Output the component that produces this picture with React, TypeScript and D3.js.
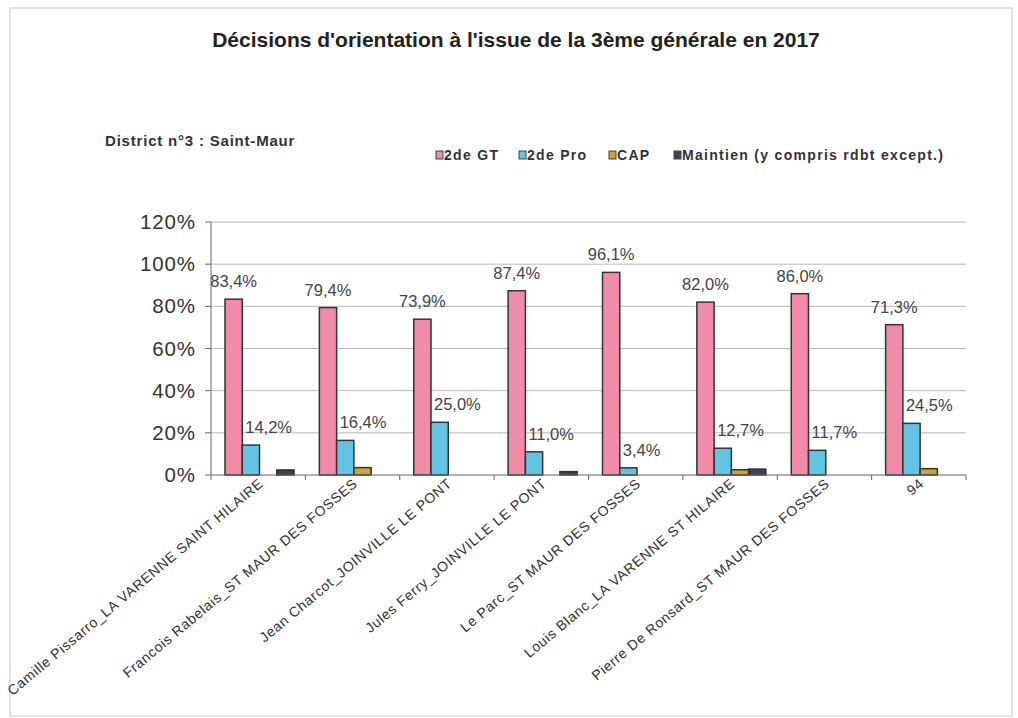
import React from 'react';
import * as d3 from 'd3';

const categories = [
  'Camille Pissarro_LA VARENNE SAINT HILAIRE',
  'Francois Rabelais_ST MAUR DES FOSSES',
  'Jean Charcot_JOINVILLE LE PONT',
  'Jules Ferry_JOINVILLE LE PONT',
  'Le Parc_ST MAUR DES FOSSES',
  'Louis Blanc_LA VARENNE ST HILAIRE',
  'Pierre De Ronsard_ST MAUR DES FOSSES',
  '94',
];
const seriesNames = ['2de GT', '2de Pro', 'CAP', 'Maintien (y compris rdbt except.)'];
const gt = [83.4, 79.4, 73.9, 87.4, 96.1, 82.0, 86.0, 71.3];
const pro = [14.2, 16.4, 25.0, 11.0, 3.4, 12.7, 11.7, 24.5];
const cap = [0, 3.5, 0, 0, 0, 2.5, 0, 3.0];
const maintien = [2.4, 0, 0, 1.6, 0, 2.8, 0, 0];
const yTicks = [0, 20, 40, 60, 80, 100, 120];
const colors = ['#f28ba8', '#62c3e3', '#c9a43c', '#3f4150'];

const W = 1018;
const H = 718;
const FONT = 'Arial, "Liberation Sans", sans-serif';

const App: React.FC = () => {
  const values = [gt, pro, cap, maintien];
  const x = d3.scaleBand<string>().domain(categories).range([211, 966]);
  const xs = d3.scaleBand<number>().domain([0, 1, 2, 3]).range([14, 83]);
  const y = d3.scaleLinear().domain([0, 120]).range([475, 222]);
  const fmt = (v: number) => v.toFixed(1).replace('.', ',') + '%';
  const legendX = [436, 519, 609, 674];

  return (
    <svg width={W} height={H} style={{ position: 'absolute', left: 0, top: 0, background: '#fff' }}>
      <rect x={10} y={8} width={1002} height={708} fill="#fff" stroke="#c8c8c8" />
      <text x={516} y={47} textAnchor="middle" fontFamily={FONT} fontWeight="bold" fontSize={21} fill="#222">
        Décisions d'orientation à l'issue de la 3ème générale en 2017
      </text>
      <text x={105} y={146} fontFamily={FONT} fontWeight="bold" fontSize={15} letterSpacing={0.8} fill="#333">
        District n°3 : Saint-Maur
      </text>

      {/* legend */}
      {seriesNames.map((name, i) => (
        <g key={name} transform={`translate(${legendX[i]},160)`}>
          <rect x={0} y={-9} width={7} height={8} fill={colors[i]} stroke="#444" strokeWidth={1} />
          <text x={8} y={0} fontFamily={FONT} fontWeight="bold" fontSize={14} letterSpacing={1.3} fill="#333">
            {name}
          </text>
        </g>
      ))}

      {/* grid */}
      {yTicks.filter(t => t > 0).map(t => (
        <line key={t} x1={211} x2={966} y1={y(t)} y2={y(t)} stroke="#b8b8b8" strokeWidth={1} />
      ))}
      {/* y axis */}
      <line x1={211} x2={211} y1={y(120)} y2={y(0)} stroke="#666" />
      {yTicks.map(t => (
        <g key={t}>
          <line x1={205} x2={211} y1={y(t)} y2={y(t)} stroke="#666" />
          <text x={196} y={y(t) + 7} textAnchor="end" fontFamily={FONT} fontSize={20.5} letterSpacing={0.9} fill="#333">
            {t}%
          </text>
        </g>
      ))}

      {/* bars */}
      {categories.map((c, ci) => (
        <g key={c} transform={`translate(${x(c)},0)`}>
          {values.map((vals, si) =>
            vals[ci] > 0 ? (
              <rect
                key={si}
                x={xs(si)}
                y={y(vals[ci])}
                width={xs.bandwidth()}
                height={y(0) - y(vals[ci])}
                fill={colors[si]}
                stroke="#333"
                strokeWidth={1.5}
              />
            ) : null
          )}
          <text
            x={(xs(0) as number) + xs.bandwidth() / 2}
            y={y(gt[ci]) - 12}
            textAnchor="middle"
            fontFamily={FONT}
            fontSize={16.5}
            fill="#444"
          >
            {fmt(gt[ci])}
          </text>
          <text
            x={(xs(1) as number) + 3}
            y={y(pro[ci]) - 12}
            textAnchor="start"
            fontFamily={FONT}
            fontSize={16.5}
            fill="#444"
          >
            {fmt(pro[ci])}
          </text>
        </g>
      ))}

      {/* x axis */}
      <line x1={211} x2={966} y1={y(0)} y2={y(0)} stroke="#666" />
      {categories.map((c, ci) => (
        <line key={ci} x1={(x(c) as number) + x.bandwidth()} x2={(x(c) as number) + x.bandwidth()} y1={y(0)} y2={y(0) + 5} stroke="#666" />
      ))}
      <line x1={211} x2={211} y1={y(0)} y2={y(0) + 5} stroke="#666" />
      {categories.map(c => {
        const cx = (x(c) as number) + x.bandwidth() / 2 + 6;
        return (
          <text
            key={c}
            transform={`translate(${cx},${y(0) + 10}) rotate(-40)`}
            textAnchor="end"
            fontFamily={FONT}
            fontSize={14}
            letterSpacing={0.7}
            fill="#333"
          >
            {c}
          </text>
        );
      })}
    </svg>
  );
};

export default App;
